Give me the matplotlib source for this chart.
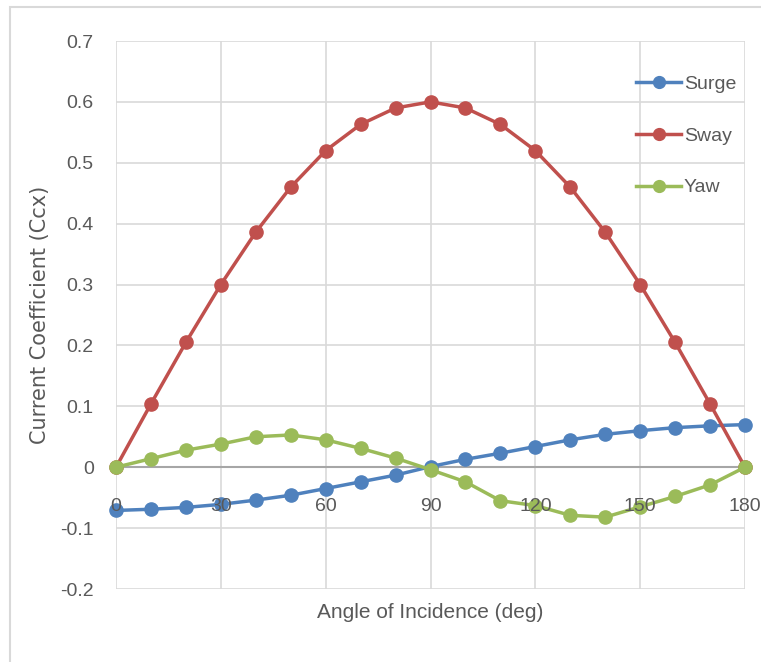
import matplotlib.pyplot as plt
from matplotlib.patches import Rectangle

# Datos
angulos = [0, 10, 20, 30, 40, 50, 60, 70, 80, 90,
           100, 110, 120, 130, 140, 150, 160, 170, 180]
surge = [-0.071, -0.069, -0.066, -0.061, -0.054, -0.046, -0.035, -0.024, -0.013, 0.001,
         0.013, 0.023, 0.034, 0.045, 0.054, 0.060, 0.065, 0.068, 0.070]
sway = [0.0, 0.104, 0.205, 0.300, 0.386, 0.460, 0.520, 0.563, 0.590, 0.600,
        0.590, 0.563, 0.520, 0.460, 0.386, 0.300, 0.205, 0.104, 0.0]
yaw = [0.0, 0.014, 0.028, 0.038, 0.050, 0.053, 0.045, 0.031, 0.015, -0.004,
       -0.024, -0.055, -0.063, -0.079, -0.082, -0.065, -0.048, -0.029, 0.0]

xticks = [0, 30, 60, 90, 120, 150, 180]
yticks = [-0.2, -0.1, 0, 0.1, 0.2, 0.3, 0.4, 0.5, 0.6, 0.7]
ytick_labels = ['-0.2', '-0.1', '0', '0.1', '0.2', '0.3', '0.4', '0.5', '0.6', '0.7']

nombres = ['Surge', 'Sway', 'Yaw']
series = [surge, sway, yaw]
colores = ['#4F81BD', '#C0504D', '#9BBB59']

texto = '#595959'
fuente = ['Liberation Sans', 'DejaVu Sans']
pos = [116 / 761, 1 - 589 / 662, (745 - 116) / 761, (589 - 41) / 662]

fig = plt.figure(figsize=(7.61, 6.62), dpi=100)
fig.patches.append(Rectangle((10 / 761, -0.1), 1.2, 1 - 7 / 662 + 0.1,
                             transform=fig.transFigure, fill=False,
                             edgecolor='#d9d9d9', linewidth=1.5))
ax = fig.add_axes(pos)

for nombre, datos, color in zip(nombres, series, colores):
    ax.plot(angulos, datos, color=color, linewidth=2.5, marker='o',
            markersize=9.5, label=nombre, clip_on=False, zorder=3)

ax.set_xlim(0, 180)
ax.set_ylim(-0.2, 0.7)
ax.set_xticks(xticks)
ax.set_yticks(yticks)
ax.set_yticklabels(ytick_labels)
ax.grid(True, color='#d9d9d9', linewidth=1.2)
ax.set_axisbelow(True)

for lado in ['top', 'right', 'left']:
    ax.spines[lado].set_visible(False)
ax.spines['bottom'].set_position(('data', 0))
ax.spines['bottom'].set_color('#a6a6a6')
ax.spines['bottom'].set_linewidth(1.5)
ax.spines['bottom'].set_zorder(2)

ax.tick_params(axis='both', length=0, colors=texto, labelsize=14)
ax.tick_params(axis='x', labelbottom=False)
ax.tick_params(axis='y', pad=16)
for lbl in ax.get_yticklabels():
    lbl.set_family(fuente)

ax.set_xlabel('Angle of Incidence (deg)', color=texto, fontsize=15,
              family=fuente)
ax.xaxis.set_label_coords(0.5, -0.025)
ax.set_ylabel('Current Coefficient (Ccx)', color=texto, fontsize=15,
              family='DejaVu Sans')
ax.yaxis.set_label_coords(-0.105, 0.5)

leg = ax.legend(loc='upper left', bbox_to_anchor=(0.827, 0.937), frameon=False,
                labelcolor=texto, handlelength=2.3, handletextpad=0.15,
                labelspacing=1.75, borderpad=0, borderaxespad=0,
                prop={'family': fuente, 'size': 14})
for h in leg.legend_handles:
    h.set_markersize(8.5)

# ejes transparentes encima: las etiquetas del eje x quedan sobre las lineas
ax_top = fig.add_axes(pos)
ax_top.set_xlim(0, 180)
ax_top.set_ylim(-0.2, 0.7)
ax_top.patch.set_visible(False)
for lado in ['top', 'right', 'left', 'bottom']:
    ax_top.spines[lado].set_visible(False)
ax_top.spines['bottom'].set_position(('data', 0))
ax_top.set_yticks([])
ax_top.set_xticks(xticks)
ax_top.tick_params(axis='x', length=0, colors=texto, labelsize=14, pad=22)
for lbl in ax_top.get_xticklabels():
    lbl.set_family(fuente)

plt.savefig('out.png', dpi=100)
